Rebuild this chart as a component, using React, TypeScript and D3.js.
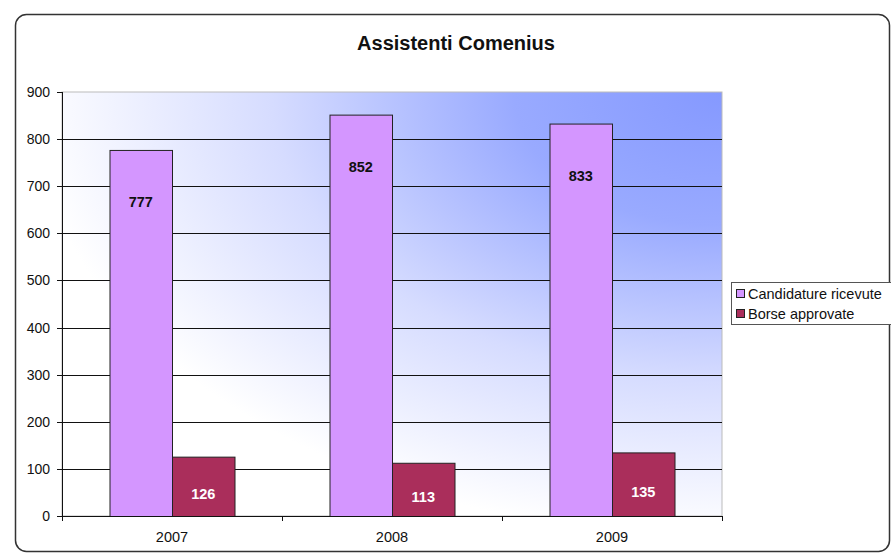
import React, { useEffect } from 'react';
import * as d3 from 'd3';

// dati
const years = ['2007', '2008', '2009'];
const candidature = [777, 852, 833];
const borse = [126, 113, 135];
const yTicks = [0, 100, 200, 300, 400, 500, 600, 700, 800, 900];

const seriesNames = ['Candidature ricevute', 'Borse approvate'];
const seriesColors = ['#D496FF', '#AA2E5B'];

const W = 891;
const H = 554;
const plot = { left: 62, top: 92, right: 722, bottom: 516 };
const font = '"Liberation Sans", Arial, sans-serif';

const App: React.FC = () => {
  useEffect(() => {
    document.body.style.margin = '0';
  }, []);

  const x = d3.scaleBand<string>()
    .domain(years)
    .range([plot.left, plot.right])
    .paddingInner(0.4318)
    .paddingOuter(0.2159);

  const y = d3.scaleLinear()
    .domain([0, 900])
    .range([plot.bottom, plot.top]);

  const barW = x.bandwidth() / 2;
  const step = (plot.right - plot.left) / years.length;
  const catEdges = d3.range(years.length + 1).map(i => plot.left + i * step);

  const series = [candidature, borse];

  return (
    <svg width={W} height={H} style={{ display: 'block', fontFamily: font }}>
      <defs>
        <radialGradient id="plotGrad" cx="1" cy="0" r="1.05" fx="1" fy="0">
          <stop offset="0%" stopColor="#8599FF" />
          <stop offset="30%" stopColor="#99AAFF" />
          <stop offset="65%" stopColor="#D6DCFF" />
          <stop offset="100%" stopColor="#FFFFFF" />
        </radialGradient>
      </defs>

      <rect x={0} y={0} width={W} height={H} fill="#fff" />
      <rect x={15.5} y={14.5} width={874} height={537} rx={11} ry={11}
        fill="#fff" stroke="#333" strokeWidth={1.5} />

      <text x={456} y={50} textAnchor="middle" fontSize={20} fontWeight="bold" fill="#111">
        Assistenti Comenius
      </text>

      {/* area del grafico */}
      <rect x={plot.left} y={plot.top} width={plot.right - plot.left} height={plot.bottom - plot.top}
        fill="url(#plotGrad)" stroke="#bbb" strokeWidth={1} />

      {yTicks.filter(t => t > 0 && t < 900).map(t => (
        <line key={t} x1={plot.left} x2={plot.right} y1={Math.round(y(t)) + 0.5} y2={Math.round(y(t)) + 0.5}
          stroke="#111" strokeWidth={1} />
      ))}

      {/* barre */}
      {years.map((yr, i) => (
        <g key={yr}>
          {series.map((s, j) => (
            <rect key={j}
              x={x(yr)! + j * barW + 0.5}
              y={y(s[i]) + 0.5}
              width={barW}
              height={y(0) - y(s[i])}
              fill={seriesColors[j]}
              stroke="#222"
              strokeWidth={1} />
          ))}
        </g>
      ))}

      {/* etichette */}
      {years.map((yr, i) => (
        <g key={'l' + yr} fontSize={14.5} fontWeight="bold" textAnchor="middle">
          <text x={x(yr)! + barW / 2} y={y(candidature[i]) + 57} fill="#111">{candidature[i]}</text>
          <text x={x(yr)! + barW * 1.5} y={(y(borse[i]) + y(0)) / 2 + 12.5} fill="#fff">{borse[i]}</text>
        </g>
      ))}

      {/* assi */}
      <line x1={plot.left + 0.5} x2={plot.left + 0.5} y1={plot.top} y2={plot.bottom} stroke="#111" />
      <line x1={plot.left} x2={plot.right} y1={plot.bottom + 0.5} y2={plot.bottom + 0.5} stroke="#111" />
      {yTicks.map(t => (
        <g key={'t' + t}>
          <line x1={plot.left - 5} x2={plot.left} y1={Math.round(y(t)) + 0.5} y2={Math.round(y(t)) + 0.5} stroke="#111" />
          <text x={50} y={y(t) + 5} textAnchor="end" fontSize={14} fill="#111">{t}</text>
        </g>
      ))}
      {catEdges.map((e, i) => (
        <line key={'c' + i} x1={Math.round(e) + 0.5} x2={Math.round(e) + 0.5} y1={plot.bottom} y2={plot.bottom + 5} stroke="#111" />
      ))}
      {years.map(yr => (
        <text key={'x' + yr} x={x(yr)! + x.bandwidth() / 2} y={541.5} textAnchor="middle" fontSize={14.5} fill="#111">{yr}</text>
      ))}

      {/* legenda */}
      <rect x={731.5} y={282.5} width={160} height={42} fill="#fff" stroke="#555" />
      {seriesNames.map((n, j) => (
        <g key={n}>
          <rect x={736.5} y={289.5 + j * 20} width={8} height={8} fill={seriesColors[j]} stroke="#222" />
          <text x={748} y={298.5 + j * 20} fontSize={14.5} fill="#111">{n}</text>
        </g>
      ))}
    </svg>
  );
};

export default App;
